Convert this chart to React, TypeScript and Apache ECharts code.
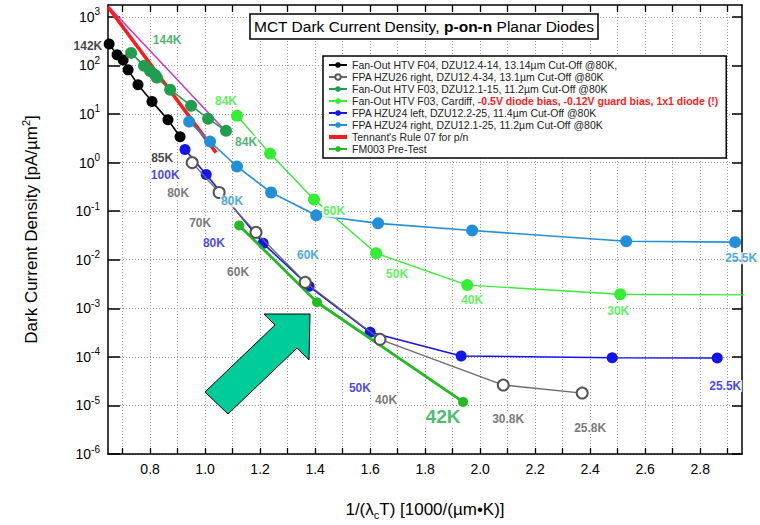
import React, { useEffect, useRef } from 'react';
import * as echarts from 'echarts';

// ---------- data ----------
const X_MIN = 0.647;
const X_MAX = 2.952;
const Y_MIN = 1e-6;
const Y_MAX = 1754;

const X_TICKS = [0.7, 0.8, 0.9, 1.0, 1.1, 1.2, 1.3, 1.4, 1.5, 1.6, 1.7, 1.8, 1.9, 2.0, 2.1, 2.2, 2.3, 2.4, 2.5, 2.6, 2.7, 2.8, 2.9];
const X_LABELS = [0.8, 1.0, 1.2, 1.4, 1.6, 1.8, 2.0, 2.2, 2.4, 2.6, 2.8];
const Y_TICKS = [1e-6, 1e-5, 1e-4, 1e-3, 1e-2, 1e-1, 1, 10, 100, 1000];

const NAME_F04 = 'Fan-Out HTV F04, DZU12.4-14, 13.14µm Cut-Off @80K,';
const NAME_HZU26 = 'FPA HZU26 right, DZU12.4-34, 13.1µm Cut-Off @80K';
const NAME_F03 = 'Fan-Out HTV F03, DZU12.1-15, 11.2µm Cut-Off @80K';
const NAME_CARDIFF = 'Fan-Out HTV F03, Cardiff,';
const CARDIFF_NOTE = '-0.5V diode bias, -0.12V guard bias, 1x1 diode (!)';
const NAME_HZU24L = 'FPA HZU24 left, DZU12.2-25, 11.4µm Cut-Off @80K';
const NAME_HZU24R = 'FPA HZU24 right, DZU12.1-25, 11.2µm Cut-Off @80K';
const NAME_TENNANT = "Tennant's Rule 07 for p/n";
const NAME_FM003 = 'FM003 Pre-Test';

const f04 = [[0.651, 277], [0.68, 165], [0.702, 130], [0.72, 81], [0.756, 40], [0.807, 18], [0.865, 7.6], [0.909, 3.4]];
const hzu26 = [[0.953, 1.0], [1.051, 0.242], [1.185, 0.0365], [1.364, 0.00343], [1.636, 2.3e-4], [2.084, 2.63e-5], [2.371, 1.8e-5]];
const f03 = [[0.731, 181], [0.778, 98], [0.8, 77], [0.818, 64], [0.825, 56], [0.873, 31.6], [0.949, 14.8], [1.011, 8], [1.076, 4.5]];
const cardiff = [[1.116, 9.2], [1.236, 1.53], [1.396, 0.174], [1.622, 0.0136], [1.953, 0.003], [2.509, 0.00195], [3.0, 0.00188]];
const hzu24l = [[0.927, 1.85], [1.004, 0.567], [1.211, 0.0217], [1.378, 0.00284], [1.6, 3.2e-4], [1.931, 1.04e-4], [2.48, 9.6e-5], [2.862, 9.5e-5]];
const hzu24r = [[0.942, 6.95], [1.018, 2.7], [1.116, 0.83], [1.24, 0.242], [1.404, 0.082], [1.629, 0.056], [1.971, 0.04], [2.531, 0.024], [2.927, 0.023]];
const tennant = [[0.647, 1590], [1.04, 1.6]];
const fm003 = [[1.124, 0.0508], [1.407, 0.00133], [1.938, 1.18e-5]];
const magentaRef = [[0.654, 1520], [1.08, 4.13]];

// temperature annotations: [x, y, text, colour key, size]
const annotations: [number, number, string, string, number][] = [
  [0.574, 253, '142K', 'black', 12],
  [0.862, 336, '144K', 'dg', 12],
  [1.076, 18.8, '84K', 'lime', 12],
  [1.149, 2.7, '84K', 'dg', 12],
  [0.844, 1.27, '85K', 'black', 12],
  [0.855, 0.567, '100K', 'blue', 12],
  [0.902, 0.231, '80K', 'gray', 12],
  [1.098, 0.158, '80K', 'lb', 12],
  [0.982, 0.0559, '70K', 'gray', 12],
  [1.032, 0.0217, '80K', 'blue', 12],
  [1.12, 0.0055, '60K', 'gray', 12],
  [1.374, 0.0123, '60K', 'lb', 12],
  [1.469, 0.0986, '60K', 'lime', 12],
  [1.698, 0.00501, '50K', 'lime', 12],
  [1.971, 0.00147, '40K', 'lime', 12],
  [2.502, 8.7e-4, '30K', 'lime', 12],
  [2.949, 0.0107, '25.5K', 'lb', 12],
  [2.891, 2.5e-5, '25.5K', 'blue', 12],
  [1.563, 2.28e-5, '50K', 'blue', 12],
  [1.658, 1.3e-5, '40K', 'gray', 12],
  [1.865, 5.8e-6, '42K', 'fm', 19],
  [2.102, 5.3e-6, '30.8K', 'gray', 12],
  [2.4, 3.45e-6, '25.8K', 'gray', 12],
];

const C = {
  black: '#000000',
  gray: '#555555',
  grayLine: '#6a6a6a',
  dg: '#1f9e4f',
  lime: '#33ee33',
  blue: '#1414ee',
  lb: '#2290d8',
  red: '#ff1a1a',
  fm: '#22bb22',
  fmLabel: '#16ad48',
  magenta: '#cc33cc',
};
const LABEL_COLORS: Record<string, string> = {
  black: '#111', gray: '#555', dg: C.dg, lime: C.lime, blue: C.blue, lb: C.lb, fm: C.fmLabel,
};

const FONT = '"Liberation Sans", Arial, Helvetica, sans-serif';

export default function App() {
  const ref = useRef<HTMLDivElement>(null);
  useEffect(() => {
    const chart = echarts.init(ref.current!, null, { renderer: 'svg' });

    const line = (name: string, data: number[][], color: string, width: number, size: number, extra: any = {}) => ({
      type: 'line',
      name,
      data,
      symbol: 'circle',
      symbolSize: size,
      showSymbol: true,
      clip: true,
      itemStyle: { color },
      lineStyle: { color, width },
      emphasis: { disabled: true },
      ...extra,
    });

    const yFmt = (v: number) => {
      const e = Math.log10(v);
      const r = Math.round(e);
      if (Math.abs(e - r) > 1e-6) return '';
      return `{b|10}{s|${r}}`;
    };

    const legendNames = [NAME_F04, NAME_HZU26, NAME_F03, NAME_CARDIFF, NAME_HZU24L, NAME_HZU24R, NAME_TENNANT, NAME_FM003];

    chart.setOption({
      animation: false,
      backgroundColor: '#ffffff',
      textStyle: { fontFamily: FONT },
      title: {
        text: 'MCT Dark Current Density, {b|p-on-n} Planar Diodes',
        left: 250,
        top: 14,
        padding: [4, 4, 4, 4],
        borderColor: '#000',
        borderWidth: 1.5,
        backgroundColor: '#fff',
        textStyle: {
          fontFamily: FONT, fontSize: 15.5, fontWeight: 'normal', color: '#000', lineHeight: 17,
          rich: { b: { fontFamily: FONT, fontSize: 15.5, fontWeight: 'bold', color: '#000', lineHeight: 17 } },
        },
      },
      legend: {
        orient: 'vertical',
        left: 323,
        top: 56,
        padding: [3, 8, 3, 5],
        itemGap: 0,
        itemWidth: 18,
        itemHeight: 7,
        borderColor: '#000',
        borderWidth: 1.5,
        backgroundColor: '#fff',
        data: legendNames.map((n) =>
          n === NAME_TENNANT
            ? { name: n, icon: 'path://M0,0 L18,0 L18,4 L0,4 Z', itemStyle: { color: C.red } }
            : { name: n }
        ),
        formatter: (n: string) => (n === NAME_CARDIFF ? `${n} {r|${CARDIFF_NOTE}}` : n),
        textStyle: {
          fontFamily: FONT, fontSize: 10.5, color: '#222', lineHeight: 12,
          rich: { r: { fontFamily: FONT, fontSize: 10.5, color: '#ff2020', fontWeight: 'bold', lineHeight: 12 } },
        },
      },
      grid: { left: 108, right: 18, top: 5, bottom: 70, containLabel: false },
      xAxis: [
        {
          type: 'value', min: X_MIN, max: X_MAX, position: 'bottom',
          name: '1/(λ{sub|c}T) [1000/(µm•K)]',
          nameLocation: 'middle', nameGap: 44,
          nameTextStyle: {
            fontFamily: FONT, fontSize: 17, color: '#000', lineHeight: 22,
            rich: { sub: { fontFamily: FONT, fontSize: 11, color: '#000', verticalAlign: 'bottom', lineHeight: 12 } },
          },
          axisLine: { show: true, onZero: false, lineStyle: { color: '#000', width: 1.5 } },
          axisTick: { show: true, inside: true, length: 6, customValues: X_TICKS, lineStyle: { color: '#000', width: 1.3 } },
          axisLabel: { customValues: X_LABELS, formatter: (v: number) => v.toFixed(1), fontSize: 14, color: '#000', margin: 8, fontFamily: FONT },
          splitLine: { show: true, lineStyle: { color: '#999', type: [1, 2], width: 1 } },
        },
        {
          type: 'value', min: X_MIN, max: X_MAX, position: 'top',
          axisLine: { show: true, onZero: false, lineStyle: { color: '#000', width: 1.5 } },
          axisTick: { show: true, inside: true, length: 7, customValues: X_TICKS, lineStyle: { color: '#000', width: 1.3 } },
          axisLabel: { show: false },
          splitLine: { show: false },
        },
      ],
      yAxis: [
        {
          type: 'log', logBase: 10, min: Y_MIN, max: Y_MAX, position: 'left',
          name: 'Dark Current Density [pA/µm{sup|2}]',
          nameLocation: 'middle', nameGap: 66, nameRotate: 90,
          nameTextStyle: {
            fontFamily: FONT, fontSize: 17, color: '#000', lineHeight: 22,
            rich: { sup: { fontFamily: FONT, fontSize: 11, color: '#000', verticalAlign: 'top', lineHeight: 12 } },
          },
          axisLine: { show: true, onZero: false, lineStyle: { color: '#000', width: 1.5 } },
          axisTick: { show: true, inside: true, length: 12, customValues: Y_TICKS, lineStyle: { color: '#000', width: 1.5 } },
          axisLabel: {
            customValues: Y_TICKS, formatter: yFmt, margin: 8, color: '#000',
            rich: {
              b: { fontFamily: FONT, fontSize: 14, color: '#000', lineHeight: 20 },
              s: { fontFamily: FONT, fontSize: 10, color: '#000', verticalAlign: 'top', lineHeight: 11 },
            },
          },
          splitLine: { show: true, lineStyle: { color: '#999', type: [1, 2], width: 1 } },
          minorTick: { show: false },
        },
        {
          type: 'log', logBase: 10, min: Y_MIN, max: Y_MAX, position: 'right',
          axisLine: { show: true, onZero: false, lineStyle: { color: '#000', width: 1.5 } },
          axisTick: { show: true, inside: true, length: 10, customValues: Y_TICKS, lineStyle: { color: '#000', width: 1.5 } },
          axisLabel: { show: false },
          splitLine: { show: false },
        },
      ],
      graphic: [
        {
          type: 'polygon',
          z: 50,
          shape: { points: [[264, 314], [310, 314], [309, 360], [297, 348], [228, 414], [205, 392], [275, 325]] },
          style: { fill: '#00cc99', stroke: '#000', lineWidth: 1 },
        },
      ],
      series: [
        line('magenta', magentaRef, C.magenta, 1.5, 0, { symbol: 'none', z: 2 }),
        line(NAME_TENNANT, tennant, C.red, 3.5, 0, { symbol: 'none', z: 3 }),
        line(NAME_F04, f04, C.black, 1.6, 11, { z: 4 }),
        line(NAME_F03, f03, C.dg, 1.6, 12, { z: 4 }),
        line(NAME_HZU24R, hzu24r, C.lb, 1.6, 12, { z: 4 }),
        line(NAME_CARDIFF, cardiff, C.lime, 1.4, 12, { z: 4 }),
        line(NAME_HZU24L, hzu24l, C.blue, 1.6, 11, { z: 5 }),
        line(NAME_HZU26, hzu26, C.gray, 1.3, 11, {
          symbol: 'emptyCircle', z: 6,
          itemStyle: { color: C.gray, borderWidth: 1.3 },
          lineStyle: { color: C.grayLine, width: 1.3 },
        }),
        line(NAME_FM003, fm003, C.fm, 2.8, 10, { z: 6 }),
        {
          type: 'scatter',
          name: 'annotations',
          clip: false,
          z: 10,
          symbolSize: 0,
          silent: true,
          data: annotations.map(([x, y, t, k, s]) => ({
            value: [x, y],
            label: {
              show: true,
              position: 'inside',
              formatter: t,
              color: LABEL_COLORS[k],
              fontSize: s,
              fontWeight: 'bold',
              fontFamily: FONT,
              backgroundColor: '#fff',
              padding: [0, 1],
            },
          })),
        },
      ],
    });
    return () => chart.dispose();
  }, []);
  return <div ref={ref} style={{ position: 'fixed', left: 0, top: 0, width: 760, height: 525, background: '#fff' }} />;
}
